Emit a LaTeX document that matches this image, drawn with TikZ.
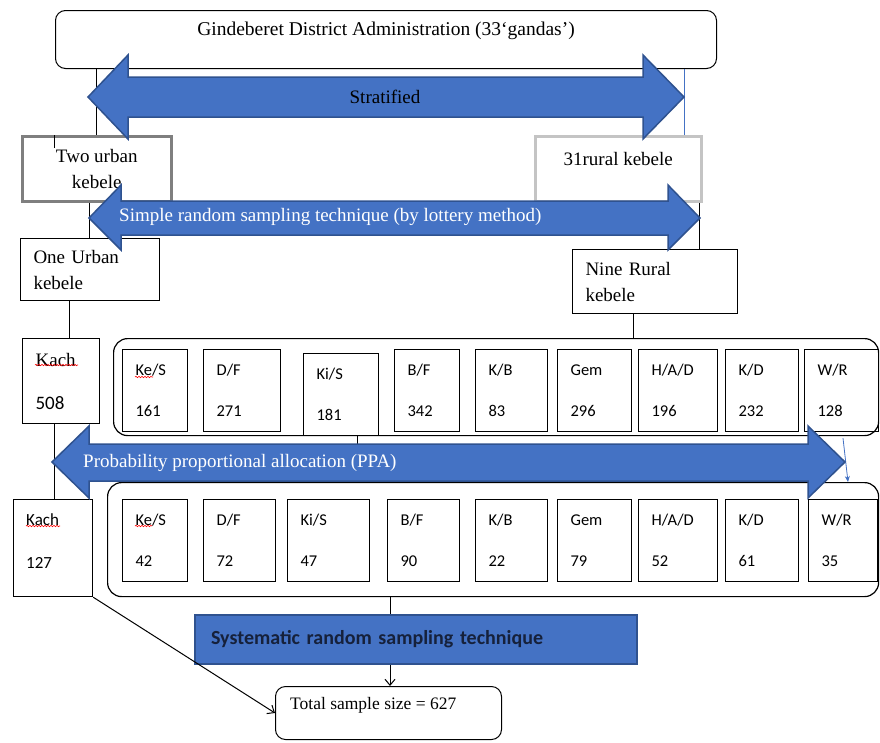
\documentclass[tikz,border=0pt]{standalone}
\usepackage{fontspec}
\setmainfont{Liberation Serif}
\newfontfamily\calibri{Carlito}
\usetikzlibrary{arrows.meta,decorations.pathmorphing}
\definecolor{arrowblue}{HTML}{4472C4}
\definecolor{arrowedge}{HTML}{2F528F}
\definecolor{midgray}{HTML}{7F7F7F}
\definecolor{palegray}{HTML}{C4C4C4}
\definecolor{navytext}{HTML}{16213B}
\tikzset{
    topbox/.style={draw, rounded corners=10pt, line width=1pt, anchor=north west},
    kebele/.style={draw, line width=1pt, anchor=north west, inner xsep=13pt, inner ysep=0pt, font=\fontsize{19}{26}\selectfont},
    cell/.style={draw, line width=1.2pt, anchor=north west, inner xsep=13pt, inner ysep=0pt, minimum height=82pt, align=left, font=\calibri\fontsize{16.5}{41}\selectfont},
    group/.style={draw, rounded corners=14pt, line width=1.2pt, anchor=north west},
    band/.style={fill=arrowblue, draw=arrowedge, line width=1.5pt, line join=miter},
    serif/.style={inner sep=0pt, font=\fontsize{19}{26}\selectfont},
    link/.style={line width=1pt},
    typo/.style={red, line width=0.6pt, decorate, decoration={snake, amplitude=0.7pt, segment length=3pt}}
}

\begin{document}
\begin{tikzpicture}[x=1pt, y=-1pt]
    \useasboundingbox (0,0) rectangle (880,742);

    % district and the two strata
    \node[topbox, minimum width=661pt, minimum height=58pt] (top) at (55,10) {};
    \node[serif, font=\fontsize{19.5}{26}\selectfont] (toptext) at ([yshift=9pt]top.center) {Gindeberet District Administration (33‘gandas’)};
    \node[kebele, draw=midgray, line width=2.5pt, minimum width=149pt, minimum height=65pt, align=center] (two) at (21,135) {Two urban\\kebele};
    \node[kebele, draw=palegray, line width=2.5pt, minimum width=166pt, minimum height=65pt] (rural) at (534,135) {};
    \node[serif] (ruraltext) at ([yshift=10pt]rural.center) {31rural kebele};

    % selected kebeles
    \node[kebele, text width=113pt, minimum height=62pt, align=left] (one) at (20,238) {One Urban\\kebele};
    \node[kebele, text width=139pt, minimum height=64pt, align=left] (nine) at (572,249) {Nine Rural\\kebele};

    % households per kebele
    \node[cell, text width=51pt, minimum height=85pt, font=\fontsize{19}{43}\selectfont] (kachA) at (22,338) {Kach\\{\calibri 508}};
    \node[group, minimum width=765pt, minimum height=97pt] (rowA) at (113,338) {};
    \node[cell, text width=39pt] (ks1) at (122,349) {Ke/S\\161};
    \node[cell, text width=51pt] (df1) at (203,349) {D/F\\271};
    \node[cell, text width=49pt] (kis1) at (303,353) {Ki/S\\181};
    \node[cell, text width=39pt] (bf1) at (394,349) {B/F\\342};
    \node[cell, text width=46pt] (kb1) at (475,349) {K/B\\83};
    \node[cell, text width=48pt] (gem1) at (557,349) {Gem\\296};
    \node[cell, text width=53pt] (had1) at (638,349) {H/A/D\\196};
    \node[cell, text width=47pt] (kd1) at (725,349) {K/D\\232};
    \node[cell, text width=48pt] (wr1) at (804,349) {W/R\\128};

    % sample per kebele
    \node[cell, text width=53pt, minimum height=97pt] (kachB) at (13,499) {};
    \node[inner sep=0pt, anchor=west, align=left, font=\calibri\fontsize{17}{43}\selectfont] (kachBtext) at ([xshift=13pt, yshift=7pt]kachB.west) {Kach\\127};
    \node[group, minimum width=771pt, minimum height=114pt] (rowB) at (107,482) {};
    \node[cell, text width=39pt] (ks2) at (122,499) {Ke/S\\42};
    \node[cell, text width=46pt] (df2) at (203,499) {D/F\\72};
    \node[cell, text width=56pt] (kis2) at (287,499) {Ki/S\\47};
    \node[cell, text width=46pt] (bf2) at (387,499) {B/F\\90};
    \node[cell, text width=46pt] (kb2) at (475,499) {K/B\\22};
    \node[cell, text width=48pt] (gem2) at (557,499) {Gem\\79};
    \node[cell, text width=53pt] (had2) at (638,499) {H/A/D\\52};
    \node[cell, text width=47pt] (kd2) at (725,499) {K/D\\61};
    \node[cell, text width=43pt] (wr2) at (808,499) {W/R\\35};

    % spelling marks
    \draw[typo] (35,365) -- (78,365);
    \draw[typo] (135,377) -- (153,377);
    \draw[typo] (26,526) -- (60,526);
    \draw[typo] (135,526) -- (152,526);

    % systematic step and total
    \node[draw=arrowedge, fill=arrowblue, line width=2pt, anchor=north west, inner xsep=16pt, text width=410pt, minimum height=49pt, align=left, text=navytext, font=\calibri\bfseries\fontsize{20}{22}\selectfont] (sys) at (194,614) {Systematic random sampling technique};
    \node[topbox, minimum width=226pt, minimum height=53pt] (total) at (275,686) {};
    \node[serif, anchor=west, font=\fontsize{17.5}{20}\selectfont] (totaltext) at ([shift={(15,19)}]total.north west) {Total sample size = 627};

    % connectors
    \draw[link] ([xshift=41pt]top.south west) -- ([xshift=75pt]two.north west);
    \draw[link] ([xshift=33pt]two.north west) -- ++(0,13);
    \draw[link, arrowblue, line width=0.8pt] ([xshift=629pt]top.south west) -- ([xshift=150pt]rural.north west);
    \draw[link] ([xshift=68pt]two.south west) -- ([xshift=69pt]one.north west);
    \draw[link] ([xshift=165pt]rural.south west) -- ([xshift=127pt]nine.north west);
    \draw[link] ([xshift=49pt]one.south west) -- ([xshift=47pt]kachA.north west);
    \draw[link] ([xshift=61pt]nine.south west) -- ([xshift=520pt]rowA.north west);
    \draw[link] ([xshift=32pt]kachA.south west) -- ([xshift=41pt]kachB.north west);
    \draw[link] ([xshift=54pt]kis1.south west) -- ([xshift=250pt]rowB.north west);
    \draw[link] ([xshift=283pt]rowB.south west) -- ([xshift=196pt]sys.north west);
    \draw[link, -{Straight Barb[length=6pt, width=10pt]}] ([xshift=196pt]sys.south west) -- ([xshift=115pt]total.north west);
    \draw[link, -{Straight Barb[length=6pt, width=10pt]}] (kachB.south east) -- (total.west);
    \draw[link, arrowblue, line width=0.8pt, -{Stealth[length=6pt, width=5pt]}] ([shift={(39,6)}]wr1.south west) -- ([xshift=741pt]rowB.north west);

    % block arrows
    \filldraw[band] (88,97) -- (128,55) -- (128,77) -- (643,77) -- (643,55) -- (684,97) -- (643,139) -- (643,117) -- (128,117) -- (128,139) -- cycle;
    \node[serif] (strat) at (385,97) {Stratified};
    \filldraw[band] (89,218) -- (121,185) -- (121,201) -- (668,201) -- (668,185) -- (700,218) -- (668,250) -- (668,235) -- (121,235) -- (121,250) -- cycle;
    \node[serif, anchor=west, text=white] (srs) at (119,217) {Simple random sampling technique (by lottery method)};
    \filldraw[band] (52,462) -- (89,426) -- (89,444) -- (808,444) -- (808,426) -- (845,462) -- (808,498) -- (808,481) -- (89,481) -- (89,498) -- cycle;
    \node[serif, anchor=west, text=white] (ppa) at (83,463) {Probability proportional allocation (PPA)};
\end{tikzpicture}
\end{document}
